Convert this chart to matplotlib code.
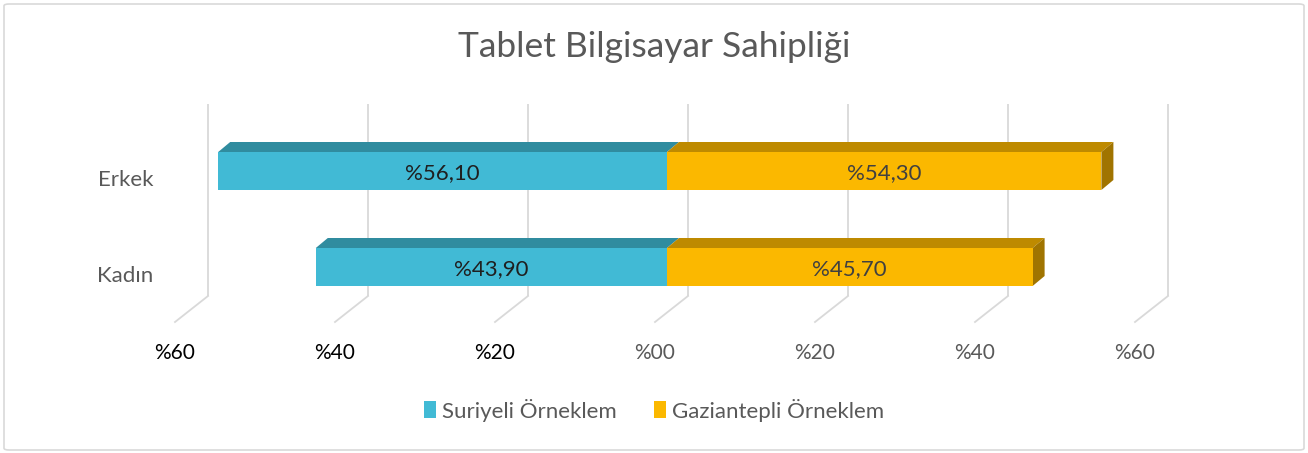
import matplotlib
matplotlib.use("Agg")
import matplotlib.pyplot as plt
from matplotlib.patches import Polygon, Patch, FancyBboxPatch

plt.rcParams['font.family'] = ['Lato', 'DejaVu Sans']

# ---- data ----
title = "Tablet Bilgisayar Sahipliği"
categories = ["Erkek", "Kadın"]
series_names = ["Suriyeli Örneklem", "Gaziantepli Örneklem"]
suriyeli = [56.10, 43.90]
gaziantepli = [54.30, 45.70]
tick_values = [-60, -40, -20, 0, 20, 40, 60]
tick_labels = ["%60", "%40", "%20", "%00", "%20", "%40", "%60"]

# ---- style ----
W, H = 1308, 453
C_FRONT = "#41BAD5"
C_TOP = "#308C9F"
O_FRONT = "#FBB800"
O_TOP = "#BE8A00"
O_SIDE = "#A07400"
GRID = "#D9D9D9"
TXT = "#595959"

fig = plt.figure(figsize=(W / 100, H / 100), dpi=100)
ax = fig.add_axes([0, 0, 1, 1])
# x: percent (1% = 8 px, zero of the front plane at px 667)
# y: category units (1 unit = 96 px, Erkek centre at px 171)
PX = 8.0
PY = 96.0
x0, y0 = 667, 171
ax.set_xlim((0 - x0) / PX, (W - x0) / PX)
ax.set_ylim((H - y0) / PY, (0 - y0) / PY)
ax.axis("off")

# border
fig.patches.append(FancyBboxPatch((4 / W, 3 / H), 1 - 8 / W, 1 - 7 / H,
                                  boxstyle="round,pad=0,rounding_size=0.004",
                                  transform=fig.transFigure, fill=False,
                                  edgecolor="#D9D9D9", linewidth=1.2))

# depth offsets
back_dx, back_dy = 21 / PX, -8 / PY
floor_dx, floor_dy = -33 / PX, 26 / PY
grid_top, grid_bot = (104 - y0) / PY, (296 - y0) / PY

# gridlines on back wall + floor diagonals
for v in tick_values:
    xb = v + back_dx
    ax.plot([xb, xb], [grid_top, grid_bot], color=GRID, lw=1.3, zorder=1,
            solid_capstyle="butt")
    ax.plot([xb, xb + floor_dx], [grid_bot, grid_bot + floor_dy], color=GRID,
            lw=1.3, zorder=1)

# tick labels
tick_y = (353 - y0) / PY
tick_colors = ["#000000", "#000000", "#000000", TXT, TXT, TXT, TXT]
for v, lab, c in zip(tick_values, tick_labels, tick_colors):
    ax.text(v + back_dx + floor_dx, tick_y, lab, ha="center", va="center",
            fontsize=15, color=c)

# bars
bh = 38 / PY
dx, dy = 12 / PX, -10 / PY
ypos = list(range(len(categories)))
ax.barh(ypos, [-s for s in suriyeli], height=bh, color=C_FRONT, zorder=3,
        linewidth=0)
ax.barh(ypos, gaziantepli, height=bh, color=O_FRONT, zorder=3, linewidth=0)
for y, s, g in zip(ypos, suriyeli, gaziantepli):
    top = y - bh / 2
    bot = y + bh / 2
    ax.add_patch(Polygon([(-s, top), (-s + dx, top + dy), (0 + dx, top + dy), (0, top)],
                         closed=True, facecolor=C_TOP, edgecolor="none", zorder=2))
    ax.add_patch(Polygon([(0, top), (0 + dx, top + dy), (g + dx, top + dy), (g, top)],
                         closed=True, facecolor=O_TOP, edgecolor="none", zorder=2.5))
    ax.add_patch(Polygon([(g, top), (g + dx, top + dy), (g + dx, bot + dy), (g, bot)],
                         closed=True, facecolor=O_SIDE, edgecolor="none", zorder=2.5))
    ax.text(-s / 2, y + 0.02, ("%" + f"{s:.2f}").replace(".", ","), ha="center",
            va="center", fontsize=16, color="#1F1F1F", zorder=5)
    ax.text(g / 2, y + 0.02, ("%" + f"{g:.2f}").replace(".", ","), ha="center",
            va="center", fontsize=16, color="#404040", zorder=5)

# category labels
for y, c in zip(ypos, categories):
    ax.text((153 - x0) / PX, y + 0.09, c, ha="right", va="center",
            fontsize=16, color=TXT)

# title
fig.text(0.5, 1 - 47 / H, title, ha="center", va="center", fontsize=25.5,
         color=TXT)

# legend
handles = [Patch(facecolor=C_FRONT, edgecolor="none"),
           Patch(facecolor=O_FRONT, edgecolor="none")]
fig.legend(handles, series_names, loc="center", bbox_to_anchor=(0.5, 1 - 410 / H),
           ncol=2, frameon=False, fontsize=16, handlelength=0.55,
           handleheight=0.8, handletextpad=0.25, columnspacing=1.7,
           labelcolor=TXT)

fig.savefig("out.png", dpi=100)
